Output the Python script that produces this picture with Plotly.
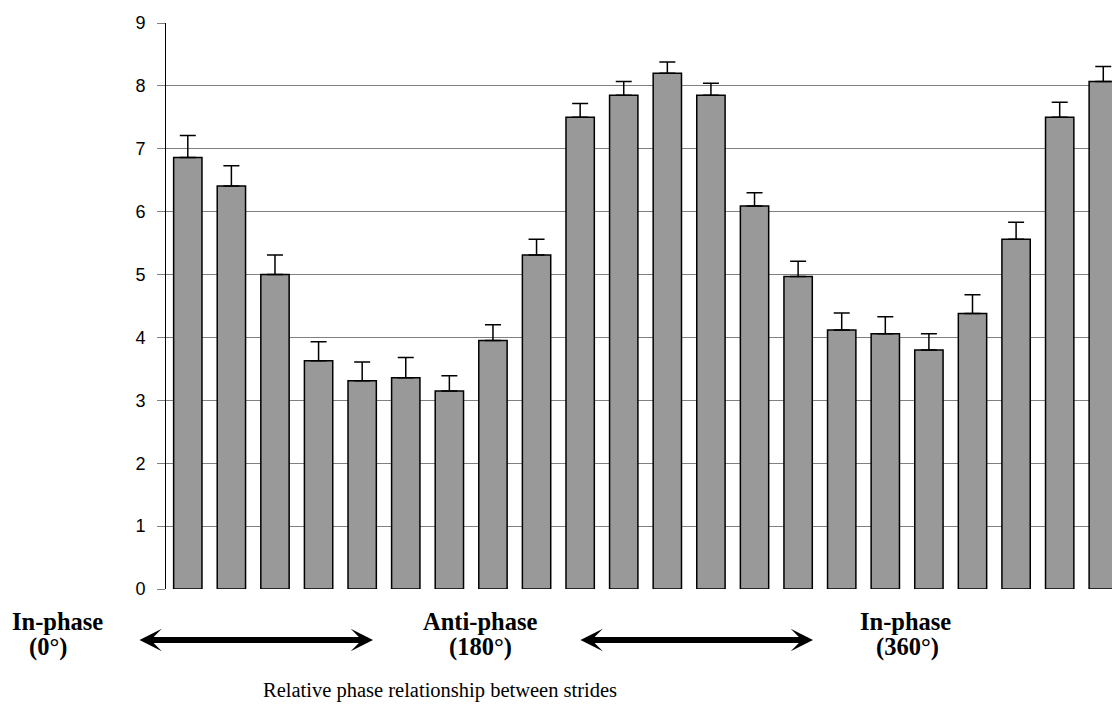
import plotly.graph_objects as go

# Data
positions = list(range(22))
values = [6.86, 6.41, 5.00, 3.63, 3.31, 3.36, 3.15, 3.95, 5.31, 7.50, 7.85,
          8.20, 7.85, 6.09, 4.97, 4.12, 4.06, 3.80, 4.38, 5.56, 7.50, 8.07]
errors = [0.35, 0.32, 0.31, 0.30, 0.30, 0.32, 0.24, 0.25, 0.25, 0.22, 0.22,
          0.18, 0.19, 0.21, 0.24, 0.27, 0.27, 0.26, 0.30, 0.27, 0.24, 0.24]
y_ticks = [0, 1, 2, 3, 4, 5, 6, 7, 8, 9]
phase_labels = [("In-phase", "(0°)"), ("Anti-phase", "(180°)"), ("In-phase", "(360°)")]
x_title = "Relative phase relationship between strides"

W, H = 1112, 704
L, R, T, B = 166, 0, 23, 115
PW, PH = W - L - R, H - T - B


def px(x):
    return (x - L) / PW


def py(y):
    return (H - B - y) / PH


fig = go.Figure()
fig.add_trace(go.Bar(
    x=positions, y=values,
    marker=dict(color="#999999", line=dict(color="black", width=1.5)),
    error_y=dict(type="data", array=errors, arrayminus=[0] * len(errors),
                 symmetric=False, color="black", thickness=1.5, width=8),
    showlegend=False,
))

annotations = []
serif_bold = dict(family="Liberation Serif", size=24.5, color="black")
# (line1 x, line2 x) centres in pixels
label_x = [(57.5, 48), (480, 480), (905, 907)]
for (l1, l2), (x1, x2) in zip(phase_labels, label_x):
    annotations.append(dict(xref="paper", yref="paper", x=px(x1), y=py(621),
                            text="<b>%s</b>" % l1, showarrow=False, font=serif_bold,
                            xanchor="center", yanchor="middle"))
    annotations.append(dict(xref="paper", yref="paper", x=px(x2), y=py(647),
                            text="<b>%s</b>" % l2, showarrow=False, font=serif_bold,
                            xanchor="center", yanchor="middle"))

for x0, x1 in [(138, 373), (579, 813)]:
    annotations.append(dict(xref="paper", yref="paper", x=px(x1), y=py(640),
                            ax=x0 - x1, ay=0, text="", showarrow=True,
                            arrowhead=3, startarrowhead=3, arrowside="end+start",
                            arrowwidth=6, arrowsize=0.62, startarrowsize=0.62,
                            arrowcolor="black", standoff=0, startstandoff=0))

annotations.append(dict(xref="paper", yref="paper", x=px(440), y=py(690),
                        text=x_title, showarrow=False,
                        font=dict(family="Liberation Serif", size=20.5, color="black"),
                        xanchor="center", yanchor="middle"))

fig.update_layout(
    width=W, height=H,
    margin=dict(l=L, r=R, t=T, b=B),
    paper_bgcolor="white", plot_bgcolor="white",
    bargap=0.35,
    xaxis=dict(range=[-0.5, 21.2], showticklabels=False, ticks="",
               showgrid=False, zeroline=False, showline=False),
    yaxis=dict(range=[0, 9], tickvals=y_ticks, ticks="outside", ticklen=8,
               tickcolor="#808080", tickwidth=1, ticklabelstandoff=8,
               showgrid=True, gridcolor="#808080", gridwidth=1,
               zeroline=False, showline=True, linecolor="black", linewidth=1,
               tickfont=dict(family="Liberation Sans", size=18, color="black")),
    annotations=annotations,
)

fig.write_html("out.html", config={"displayModeBar": False},
               post_script="document.body.style.margin='0';document.body.style.overflow='hidden';")
